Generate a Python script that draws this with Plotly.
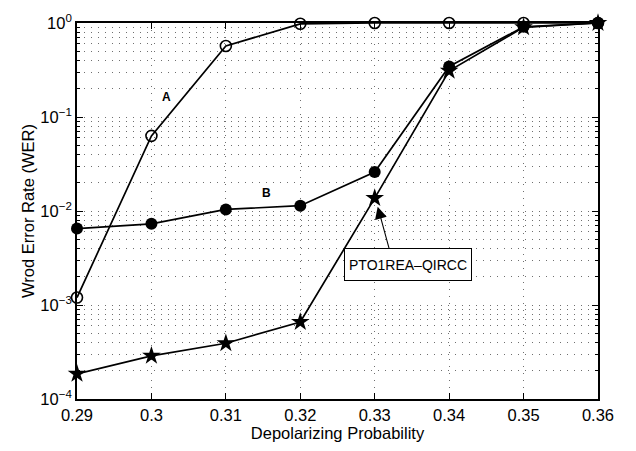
import plotly.graph_objects as go

p = [0.29, 0.30, 0.31, 0.32, 0.33, 0.34, 0.35, 0.36]
wer_A = [1.2e-3, 0.063, 0.57, 0.98, 1.0, 1.0, 1.0, 1.0]
wer_B = [0.0065, 0.0073, 0.0104, 0.0114, 0.026, 0.345, 0.91, 1.0]
wer_star = [1.85e-4, 2.88e-4, 3.92e-4, 6.6e-4, 0.0137, 0.31, 0.9, 1.0]

x_ticks = [0.29, 0.30, 0.31, 0.32, 0.33, 0.34, 0.35, 0.36]
x_ticktext = ["0.29", "0.3", "0.31", "0.32", "0.33", "0.34", "0.35", "0.36"]
y_ticks = [1e-4, 1e-3, 1e-2, 1e-1, 1]
y_ticktext = ["10<sup>−4</sup>", "10<sup>−3</sup>", "10<sup>−2</sup>", "10<sup>−1</sup>", "10<sup>0</sup>"]

FONT = "Liberation Sans, Arial, sans-serif"
FS = 16.5
fig = go.Figure()

fig.add_trace(go.Scatter(x=p, y=wer_star, mode="lines+markers", cliponaxis=False,
                         line=dict(color="black", width=1.7),
                         marker=dict(symbol="star", size=14, color="black"), name="star"))
fig.add_trace(go.Scatter(x=p, y=wer_B, mode="lines+markers", cliponaxis=False,
                         line=dict(color="black", width=1.7),
                         marker=dict(symbol="circle", size=12, color="black"), name="B"))
fig.add_trace(go.Scatter(x=p, y=wer_A, mode="lines+markers", cliponaxis=False,
                         line=dict(color="black", width=1.7),
                         marker=dict(symbol="circle-open", size=11, color="black",
                                     line=dict(width=1.6)), name="A"))

GRIDC = "#6f6f6f"
GRIDDASH = "1px,6px"

fig.update_xaxes(range=[0.29, 0.36], tickvals=x_ticks, ticktext=x_ticktext,
                 ticks="inside", ticklen=6, tickcolor="black", mirror="allticks",
                 showline=True, linecolor="black", linewidth=1.6,
                 showgrid=True, zeroline=False, gridcolor=GRIDC, griddash=GRIDDASH, gridwidth=1,
                 title=dict(text="Depolarizing Probability", standoff=4,
                            font=dict(size=FS, color="black", family=FONT)),
                 tickfont=dict(size=FS, color="black", family=FONT))
fig.update_yaxes(type="log", range=[-4, 0], tickvals=y_ticks, ticktext=y_ticktext,
                 ticks="inside", ticklen=6, tickcolor="black", mirror="allticks",
                 showline=True, linecolor="black", linewidth=1.6,
                 showgrid=True, zeroline=False, gridcolor=GRIDC, griddash=GRIDDASH, gridwidth=1,
                 minor=dict(dtick="D1", ticks="inside", ticklen=3, tickcolor="black",
                            showgrid=True, gridcolor=GRIDC, griddash=GRIDDASH, gridwidth=1),
                 title=dict(text="Wrod Error Rate (WER)", standoff=2,
                            font=dict(size=FS, color="black", family=FONT)),
                 tickfont=dict(size=FS, color="black", family=FONT))

fig.add_annotation(x=0.302, y=-0.788, text="<b>A</b>", showarrow=False,
                   font=dict(size=12, color="black", family=FONT))
fig.add_annotation(x=0.3155, y=-1.81, text="<b>B</b>", showarrow=False,
                   font=dict(size=12, color="black", family=FONT))
# arrow
fig.add_annotation(x=0.3304, y=-1.954, text="", showarrow=True, arrowhead=2,
                   arrowsize=2.2, arrowwidth=1.1, arrowcolor="black", ax=12, ay=44)
# text box
fig.add_annotation(x=0.3345, y=-2.568, text="PTO1REA–QIRCC", showarrow=False,
                   font=dict(size=14, color="black", family=FONT),
                   bordercolor="black", borderwidth=1, bgcolor="white",
                   borderpad=1, width=124, height=29)

fig.update_layout(width=636, height=451, margin=dict(l=77, r=38, t=12, b=48),
                  plot_bgcolor="white", paper_bgcolor="white", showlegend=False,
                  font=dict(family=FONT, color="black"))
fig.write_html("out.html")
